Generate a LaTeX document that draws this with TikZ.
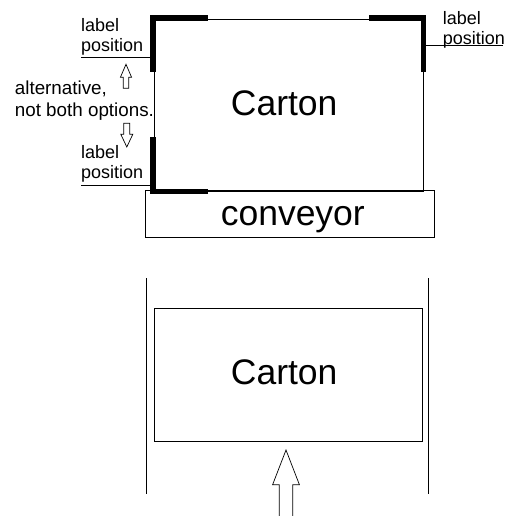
\documentclass[tikz,border=0pt]{standalone}
\usepackage{fontspec}
\setmainfont{Liberation Sans}
\newcommand{\hollowup}[5]{
    \draw[arrowline] (#1-#3,#5) -- (#1-#3,#2+#4) -- (#1-#3-#3,#2+#4) -- (#1,#2) -- (#1+#3+#3,#2+#4) -- (#1+#3,#2+#4) -- (#1+#3,#5) -- cycle;
}
\newcommand{\hollowdown}[5]{
    \draw[arrowline] (#1-#3,#5) -- (#1-#3,#2-#4) -- (#1-#3-#3,#2-#4) -- (#1,#2) -- (#1+#3+#3,#2-#4) -- (#1+#3,#2-#4) -- (#1+#3,#5) -- cycle;
}
\newcommand{\thickcorner}[6]{
    \draw[corner] (#1,#2) -- (#3,#4) -- (#5,#6);
}
\tikzset{
    box/.style={draw, line width=0.8pt, inner sep=0pt},
    bigtext/.style={font=\fontsize{35.5}{40}\selectfont, anchor=base, inner sep=0pt},
    smalltext/.style={font=\fontsize{18}{20}\selectfont, align=left, anchor=north west, inner sep=0pt},
    notetext/.style={font=\fontsize{18.8}{22}\selectfont, align=left, anchor=north west, inner sep=0pt},
    corner/.style={line width=5.2pt, line join=miter, line cap=butt},
    arrowline/.style={line width=0.7pt},
    leader/.style={line width=0.8pt},
}
\begin{document}
\begin{tikzpicture}[x=1pt,y=-1pt]
\useasboundingbox (0,0) rectangle (515,516);
% upper view
\node[box, minimum width=289pt, minimum height=47pt] (conveyor) at (290,214) {};
\node[bigtext] (conveyortext) at (292.8,225) {conveyor};
\node[box, minimum width=269pt, minimum height=172pt] (cartontop) at (288.5,105) {};
\node[bigtext] (cartontoptext) at (284.2,115) {Carton};
\thickcorner{153}{71.7}{153}{18}{207.7}{18}
\thickcorner{153}{137.3}{153}{191.7}{207.5}{191.7}
\thickcorner{369}{18}{423.5}{18}{423.5}{72}
\node[smalltext] (labelone) at (81,18) {label\\position};
\node[smalltext] (labeltwo) at (81,145.7) {label\\position};
\node[smalltext] (labelthree) at (442.7,11) {label\\position};
\node[notetext] (note) at (14.7,80.3) {alternative,\\not both options.};
\coordinate (leaderonea) at (81,57.3);
\coordinate (leaderoneb) at (151,57.3);
\coordinate (leadertwoa) at (81,185.3);
\coordinate (leadertwob) at (151,185.3);
\coordinate (leaderthreea) at (426,45.7);
\coordinate (leaderthreeb) at (503,45.7);
\foreach \a/\b in {leaderonea/leaderoneb, leadertwoa/leadertwob, leaderthreea/leaderthreeb}{
    \draw[leader] (\a) -- (\b);
}
\hollowup{126}{64.3}{2.8}{13}{88.3}
\hollowdown{126.8}{147}{3}{12.7}{123.3}
% lower view
\node[box, minimum width=268pt, minimum height=133pt] (cartonbottom) at (288.2,374.8) {};
\node[bigtext] (cartonbottomtext) at (284.2,384.3) {Carton};
\coordinate (railatop) at (146,278.3);
\coordinate (railabottom) at (146,494);
\coordinate (railbtop) at (428,278.3);
\coordinate (railbbottom) at (428,494);
\draw[leader] (railatop) -- (railabottom);
\draw[leader] (railbtop) -- (railbbottom);
\hollowup{286}{450}{6.7}{34.7}{519}
\end{tikzpicture}
\end{document}
